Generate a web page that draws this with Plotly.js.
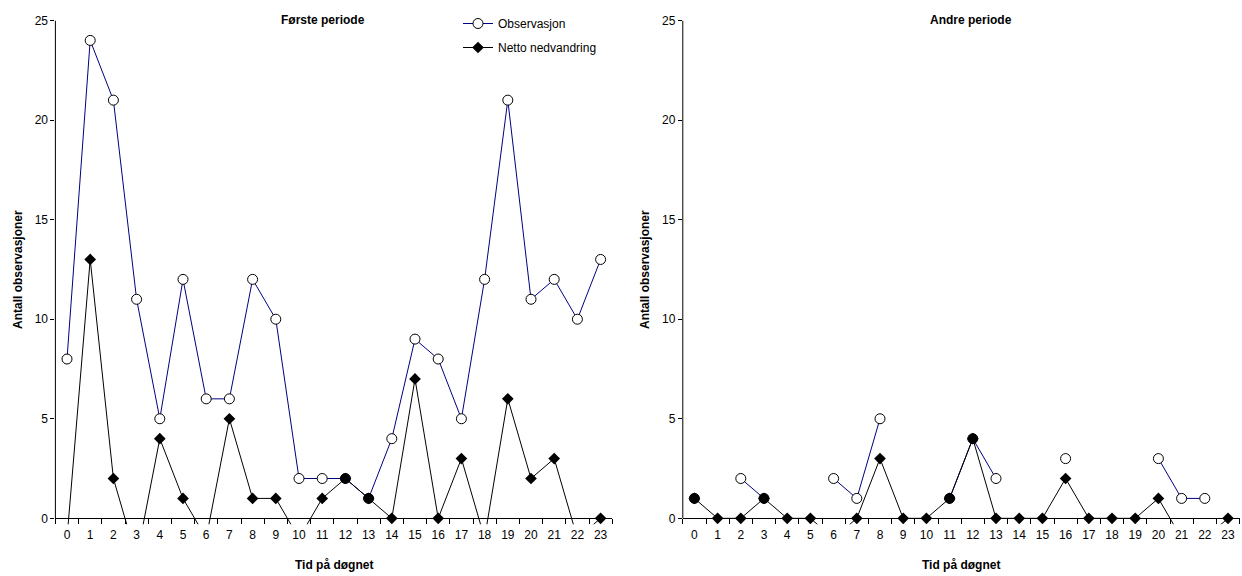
<!DOCTYPE html>
<html>
<head>
<meta charset="utf-8">
<script src="https://cdn.plot.ly/plotly-3.0.1.min.js"></script>
<style>html,body{margin:0;padding:0;background:#fff}#chart{width:1242px;height:576px}</style>
</head>
<body>
<div id="chart"></div>
<script>
// Tick labels / categories
const hours = ['0','1','2','3','4','5','6','7','8','9','10','11','12','13','14','15','16','17','18','19','20','21','22','23'];
// Første periode
const obs1 = [8,24,21,11,5,12,6,6,12,10,2,2,2,1,4,9,8,5,12,21,11,12,10,13];
const net1 = [-1,13,2,-2,4,1,-1,5,1,1,-1,1,2,1,0,7,0,3,-1,6,2,3,-1,0];
// Andre periode
const obs2 = [1,null,2,1,null,null,2,1,5,null,null,1,4,2,null,null,3,null,null,null,3,1,1,null];
const net2 = [1,0,0,1,0,0,-1,0,3,0,0,1,4,0,0,0,2,0,0,0,1,-1,-1,0];

const seriesNames = ['Observasjon', 'Netto nedvandring'];
const panelTitles = ['Første periode', 'Andre periode'];
const xTitle = 'Tid på døgnet';
const yTitle = 'Antall observasjoner';
const yTicks = [0,5,10,15,20,25];

const FONT = 'Liberation Sans, Arial, sans-serif';
const W = 1242, H = 576;
const px = v => v / W;
const py = v => 1 - v / H;

function obsColors(o, n) { return o.map((v, i) => (v !== null && v === n[i]) ? '#000000' : '#ffffff'); }

function obsTrace(o, n, xa, ya, show) {
  return {
    x: hours, y: o, xaxis: xa, yaxis: ya, type: 'scatter', mode: 'lines+markers',
    name: seriesNames[0], legendgroup: 'a', showlegend: show, connectgaps: false,
    line: {color: '#000080', width: 1},
    marker: {symbol: 'circle', size: 10, color: obsColors(o, n), line: {color: '#000000', width: 1}},
    hoverinfo: 'skip'
  };
}
function netTrace(n, xa, ya, show) {
  return {
    x: hours, y: n, xaxis: xa, yaxis: ya, type: 'scatter', mode: 'lines+markers',
    name: seriesNames[1], legendgroup: 'b', showlegend: show,
    line: {color: '#000000', width: 1},
    marker: {symbol: 'diamond', size: 9, color: '#000000', line: {color: '#000000', width: 0}},
    hoverinfo: 'skip'
  };
}

const data = [
  obsTrace(obs1, net1, 'x', 'y', true),
  netTrace(net1, 'x', 'y', true),
  obsTrace(obs2, net2, 'x2', 'y2', false),
  netTrace(net2, 'x2', 'y2', false)
];

const yDom = [py(524.3), py(20.5)];
const xPos = py(518.3);
function xax(dom) {
  return {
    type: 'category', categoryorder: 'array', categoryarray: hours,
    domain: dom, range: [-0.5, 23.5], anchor: 'free', position: xPos,
    tickson: 'boundaries', ticks: 'outside', ticklen: 5, tickcolor: '#000', tickwidth: 1,
    ticklabelstandoff: 5,
    showline: true, linecolor: '#000', linewidth: 1, showgrid: false, zeroline: false,
    tickfont: {family: FONT, size: 12, color: '#000'}, layer: 'below traces', fixedrange: true
  };
}
function yax(anchor) {
  return {
    domain: yDom, range: [-0.3, 25], anchor: anchor, tickvals: yTicks, ticktext: yTicks.map(String),
    ticks: 'outside', ticklen: 4, tickcolor: '#000', tickwidth: 1,
    showline: false, showgrid: false, zeroline: false,
    tickfont: {family: FONT, size: 12, color: '#000'}, layer: 'below traces', fixedrange: true
  };
}

const layout = {
  width: W, height: H,
  margin: {l: 0, r: 0, t: 0, b: 0},
  paper_bgcolor: '#fff', plot_bgcolor: 'rgba(0,0,0,0)',
  showlegend: true,
  xaxis: xax([px(55.4), px(612.2)]),
  yaxis: yax('x'),
  xaxis2: xax([px(682.8), px(1239.6)]),
  yaxis2: yax('x2'),
  legend: {
    x: px(458), y: py(9), xanchor: 'left', yanchor: 'top',
    bgcolor: 'rgba(0,0,0,0)', borderwidth: 0,
    font: {family: FONT, size: 12, color: '#000'},
    traceorder: 'grouped', tracegroupgap: 5, itemwidth: 30
  },
  shapes: [
    {type: 'line', xref: 'x domain', yref: 'y', x0: 0, x1: 0, y0: 0, y1: 25, line: {color: '#000', width: 1}, layer: 'below'},
    {type: 'line', xref: 'x2 domain', yref: 'y2', x0: 0, x1: 0, y0: 0, y1: 25, line: {color: '#000', width: 1}, layer: 'below'}
  ],
  annotations: [
    {text: '<b>' + panelTitles[0] + '</b>', xref: 'paper', yref: 'paper', x: px(323), y: py(20), xanchor: 'center', yanchor: 'middle', showarrow: false, font: {family: FONT, size: 12, color: '#000'}},
    {text: '<b>' + panelTitles[1] + '</b>', xref: 'paper', yref: 'paper', x: px(971), y: py(20), xanchor: 'center', yanchor: 'middle', showarrow: false, font: {family: FONT, size: 12, color: '#000'}},
    {text: '<b>' + xTitle + '</b>', xref: 'paper', yref: 'paper', x: px(333.8), y: py(565), xanchor: 'center', yanchor: 'middle', showarrow: false, font: {family: FONT, size: 12, color: '#000'}},
    {text: '<b>' + xTitle + '</b>', xref: 'paper', yref: 'paper', x: px(961.2), y: py(565), xanchor: 'center', yanchor: 'middle', showarrow: false, font: {family: FONT, size: 12, color: '#000'}},
    {text: '<b>' + yTitle + '</b>', xref: 'paper', yref: 'paper', x: px(18), y: py(270), xanchor: 'center', yanchor: 'middle', textangle: -90, showarrow: false, font: {family: FONT, size: 12, color: '#000'}},
    {text: '<b>' + yTitle + '</b>', xref: 'paper', yref: 'paper', x: px(645), y: py(270), xanchor: 'center', yanchor: 'middle', textangle: -90, showarrow: false, font: {family: FONT, size: 12, color: '#000'}}
  ]
};

Plotly.newPlot('chart', data, layout, {displayModeBar: false, staticPlot: true});
</script>
</body>
</html>
